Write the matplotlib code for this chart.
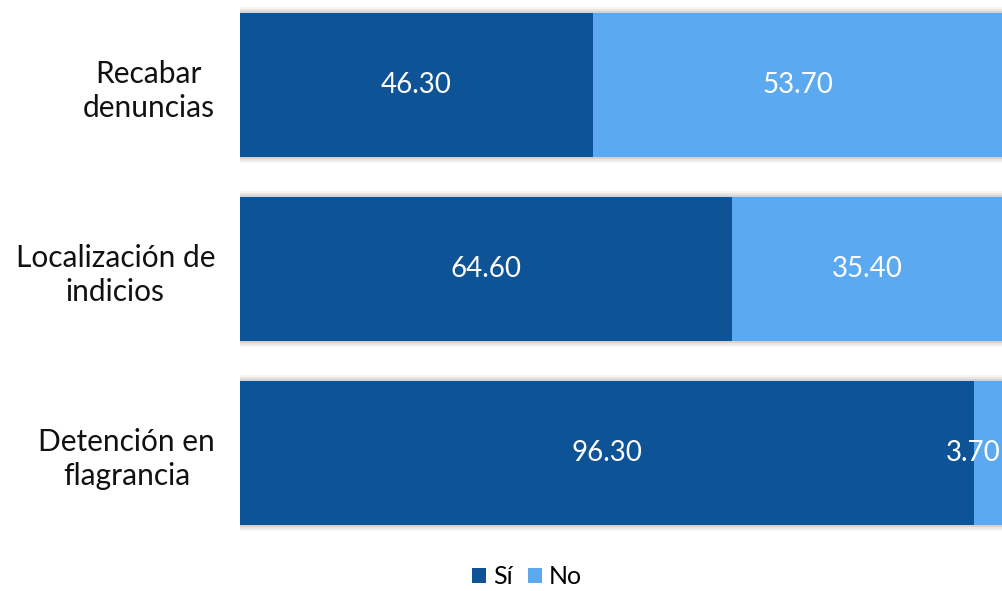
import matplotlib
matplotlib.use("Agg")
import matplotlib.pyplot as plt
from matplotlib.patches import Rectangle

categories = ["Recabar\ndenuncias", "Localización de\nindicios", "Detención en\nflagrancia"]
si_values = [46.30, 64.60, 96.30]
no_values = [53.70, 35.40, 3.70]
series_names = ["Sí", "No"]
colors = ["#0E5395", "#5BA9F1"]

plt.rcParams['font.family'] = ['Lato', 'DejaVu Sans']

W, H = 1002, 591
fig = plt.figure(figsize=(W / 100, H / 100), dpi=100)
ax = fig.add_axes([240 / W, (H - 546) / H, 762 / W, 546 / H])

y = list(range(len(categories)))
bar_h = 0.78

# soft shadow behind each bar
for yi in y:
    for k, a in zip([1.2, 0.8, 0.4], [0.04, 0.06, 0.08]):
        ax.add_patch(Rectangle((0, yi - bar_h / 2 - k * 0.03), 101, bar_h + 2 * k * 0.03,
                               facecolor="black", alpha=a, edgecolor="none", zorder=1))

b1 = ax.barh(y, si_values, height=bar_h, color=colors[0], label=series_names[0], zorder=2)
b2 = ax.barh(y, no_values, left=si_values, height=bar_h, color=colors[1], label=series_names[1], zorder=2)

for vals, lefts in [(si_values, [0] * 3), (no_values, si_values)]:
    for yi, v, l in zip(y, vals, lefts):
        cx = l + v / 2
        if cx > 96:
            ax.text(99.8, yi, f"{v:.2f}", ha="right", va="center", color="white",
                    fontsize=20, zorder=3)
        else:
            ax.text(cx, yi, f"{v:.2f}", ha="center", va="center", color="white",
                    fontsize=20, zorder=3)

ax.set_xlim(0, 100)
ax.set_ylim(2.505, -0.462)
ax.set_yticks(y)
ax.set_yticklabels(categories, fontsize=21.5, color="#111111", linespacing=1.3,
                   ha="right", multialignment="center")
ax.tick_params(axis="y", length=0, pad=18)
ax.set_xticks([])
for s in ax.spines.values():
    s.set_visible(False)

fig.legend(handles=[b1, b2], labels=series_names, loc="center", bbox_to_anchor=(527 / W, 1 - 577 / H),
           ncol=2, frameon=False, fontsize=18, handlelength=0.55, handleheight=0.55,
           handletextpad=0.3, columnspacing=0.6)

fig.savefig("out.png", dpi=100)
